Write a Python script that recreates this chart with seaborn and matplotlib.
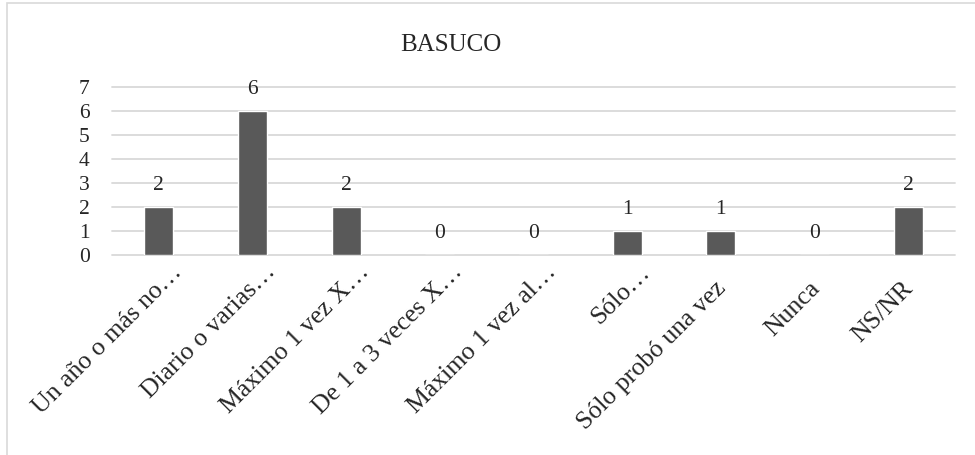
import seaborn as sns
import matplotlib
matplotlib.use("Agg")
import matplotlib.pyplot as plt
from matplotlib.patches import Rectangle
from matplotlib.transforms import ScaledTranslation
import pandas as pd

# Data
categories = [
    "Un año o más no…",
    "Diario o varias…",
    "Máximo 1 vez X…",
    "De 1 a 3 veces X…",
    "Máximo 1 vez al…",
    "Sólo…",
    "Sólo probó una vez",
    "Nunca",
    "NS/NR",
]
values = [2, 6, 2, 0, 0, 1, 1, 0, 2]
yticks = [0, 1, 2, 3, 4, 5, 6, 7]
title = "BASUCO"

BAR_COLOR = "#595959"
GRID_COLOR = "#d9d9d9"

sns.set_style("white")
plt.rcParams['font.family'] = ['Liberation Serif', 'DejaVu Serif']

df = pd.DataFrame({'cat': categories, 'n': values})

fig = plt.figure(figsize=(9.75, 4.55), dpi=100)
ax = fig.add_axes([112 / 975, 1 - 255 / 455, 843 / 975, 167.7 / 455])

sns.barplot(data=df, x='cat', y='n', color=BAR_COLOR, width=0.31,
            saturation=1, ax=ax)

ax.set_ylim(0, 7)
ax.set_yticks(yticks)
ax.set_xlabel("")
ax.set_ylabel("")
ax.grid(axis='y', color=GRID_COLOR, linewidth=1.3)
ax.set_axisbelow(True)
for gl in ax.get_ygridlines():
    gl.set_clip_on(False)
for s in ax.spines.values():
    s.set_visible(False)

ax.tick_params(axis='y', length=0, pad=16, labelsize=15.5)
ax.tick_params(axis='x', length=0, pad=0, labelsize=18.5)

for c in ax.containers:
    ax.bar_label(c, padding=9, fontsize=15.5)

# rotated category labels, Excel-like placement
for lbl in ax.get_xticklabels():
    lbl.set_rotation(45)
    lbl.set_rotation_mode('anchor')
    lbl.set_ha('right')
    lbl.set_va('baseline')
    dx, dy = 0.06, -0.34
    if lbl.get_text().endswith("…"):
        dx += 0.18
        dy += 0.16
    lbl.set_transform(lbl.get_transform() + ScaledTranslation(dx, dy, fig.dpi_scale_trans))

fig.text(451 / 975, 1 - 51 / 455, title, ha='center', va='baseline', fontsize=18)

# light frame around the chart area
fig.patches.append(Rectangle((7 / 975, -0.1), 1.2, 1.1 - 3.5 / 455,
                             transform=fig.transFigure, fill=False,
                             edgecolor=GRID_COLOR, linewidth=1.2))

fig.savefig("out.png", dpi=100)
plt.close(fig)
